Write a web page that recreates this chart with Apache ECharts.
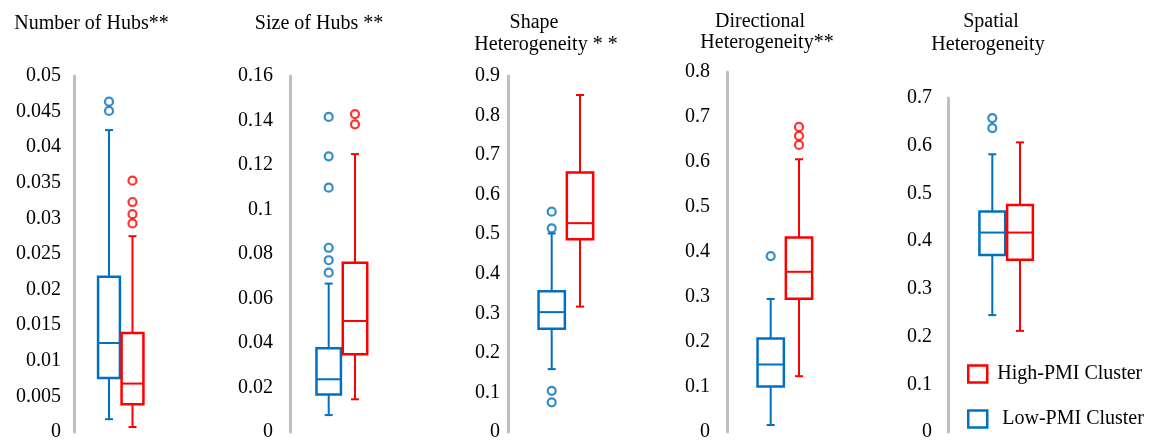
<!DOCTYPE html>
<html>
<head>
<meta charset="utf-8">
<script src="https://cdn.jsdelivr.net/npm/echarts@6/dist/echarts.min.js"></script>
<style>
  html, body { margin: 0; padding: 0; background: #fff; }
  #chart { width: 1151px; height: 443px; }
</style>
</head>
<body>
<div id="chart"></div>
<script>
// box stats are [min, q1, median, q3, max]
const groups = ['Low-PMI Cluster', 'High-PMI Cluster']

const hubCountLow = [0.0018, 0.0076, 0.0125, 0.0218, 0.0424]
const hubCountHigh = [0.0007, 0.0039, 0.0068, 0.0139, 0.0275]
const hubCountLowOut = [0.0451, 0.0464]
const hubCountHighOut = [0.0293, 0.0306, 0.0323, 0.0353]

const hubSizeLow = [0.0076, 0.0169, 0.0237, 0.0376, 0.0667]
const hubSizeHigh = [0.0147, 0.0349, 0.0499, 0.0761, 0.1249]
const hubSizeLowOut = [0.0716, 0.0772, 0.0828, 0.1098, 0.1239, 0.1416]
const hubSizeHighOut = [0.1383, 0.1429]

const shapeLow = [0.159, 0.261, 0.303, 0.356, 0.502]
const shapeHigh = [0.317, 0.487, 0.528, 0.656, 0.852]
const shapeLowOut = [0.075, 0.104, 0.515, 0.557]
const shapeHighOut = []

const directionLow = [0.0156, 0.101, 0.150, 0.208, 0.2956]
const directionHigh = [0.124, 0.296, 0.356, 0.432, 0.606]
const directionLowOut = [0.391]
const directionHighOut = [0.638, 0.658, 0.678]

const spatialLow = [0.245, 0.371, 0.418, 0.462, 0.582]
const spatialHigh = [0.212, 0.361, 0.418, 0.476, 0.607]
const spatialLowOut = [0.637, 0.658]
const spatialHighOut = []

// axis maxima and tick steps
const axisMax = [0.05, 0.16, 0.9, 0.8, 0.7]
const axisStep = [0.005, 0.02, 0.1, 0.1, 0.1]

const titleLines = [
  ['Number of Hubs**'],
  ['Size of Hubs **'],
  ['Shape', 'Heterogeneity * *'],
  ['Directional', 'Heterogeneity**'],
  ['Spatial', 'Heterogeneity']
]

const panelData = [
  [hubCountLow, hubCountHigh, hubCountLowOut, hubCountHighOut],
  [hubSizeLow, hubSizeHigh, hubSizeLowOut, hubSizeHighOut],
  [shapeLow, shapeHigh, shapeLowOut, shapeHighOut],
  [directionLow, directionHigh, directionLowOut, directionHighOut],
  [spatialLow, spatialHigh, spatialLowOut, spatialHighOut]
]

// layout (pixels): axis line x, centers of the two boxes, grid top, label gap
const layout = [
  { axisX: 74, c1: 109, c2: 132.5, top: 76, gap: 13 },
  { axisX: 290, c1: 328.7, c2: 355, top: 76, gap: 17 },
  { axisX: 508, c1: 551.7, c2: 580, top: 76, gap: 8 },
  { axisX: 727, c1: 770.7, c2: 799, top: 72, gap: 17 },
  { axisX: 948, c1: 992.3, c2: 1020, top: 98, gap: 16 }
]
const titlePos = [
  [[91.5, 24]],
  [[319, 24]],
  [[534, 23], [546, 45]],
  [[760, 22], [767, 43]],
  [[991, 22], [988, 45]]
]

const colors = { 'Low-PMI Cluster': '#0070C0', 'High-PMI Cluster': '#FF0000' }
const FONT = "'Liberation Serif', 'Times New Roman', serif"

function renderBox(params, api) {
  const x = api.value(0)
  const pMin = api.coord([x, api.value(1)])
  const pQ1 = api.coord([x, api.value(2)])
  const pMed = api.coord([x, api.value(3)])
  const pQ3 = api.coord([x, api.value(4)])
  const pMax = api.coord([x, api.value(5)])
  const bw = api.size([1, 0])[0] * 0.93
  const cx = pMin[0]
  const cap = 4
  const color = api.visual('color')
  const line = (x1, y1, x2, y2, w) => ({
    type: 'line', shape: { x1: x1, y1: y1, x2: x2, y2: y2 },
    style: { stroke: color, lineWidth: w }
  })
  return {
    type: 'group',
    children: [
      line(cx, pMax[1], cx, pQ3[1], 2),
      line(cx, pQ1[1], cx, pMin[1], 2),
      line(cx - cap, pMax[1], cx + cap, pMax[1], 2),
      line(cx - cap, pMin[1], cx + cap, pMin[1], 2),
      {
        type: 'rect',
        shape: { x: cx - bw / 2, y: pQ3[1], width: bw, height: pQ1[1] - pQ3[1] },
        style: { fill: '#fff', stroke: color, lineWidth: 2.5 }
      },
      line(cx - bw / 2, pMed[1], cx + bw / 2, pMed[1], 2)
    ]
  }
}

const grid = []
const xAxis = []
const yAxis = []
const series = []
const graphic = []

layout.forEach((p, i) => {
  const w = 2 * (p.c2 - p.c1)
  const left = p.c1 - (p.c2 - p.c1) / 2
  grid.push({ left: left, top: p.top, width: w, bottom: 11 })
  xAxis.push({ type: 'category', gridIndex: i, data: groups, show: false })
  yAxis.push({
    type: 'value', gridIndex: i, min: 0, max: axisMax[i], interval: axisStep[i],
    offset: left - p.axisX,
    axisLine: { show: true, lineStyle: { color: '#BFBFBF', width: 3 } },
    axisTick: { show: false },
    splitLine: { show: false },
    axisLabel: {
      margin: p.gap, fontSize: 20, fontFamily: FONT, color: '#000',
      formatter: v => String(+v.toFixed(4))
    }
  })
  const d = panelData[i]
  groups.forEach((g, k) => {
    series.push({
      type: 'custom', name: g, xAxisIndex: i, yAxisIndex: i,
      itemStyle: { color: colors[g] },
      renderItem: renderBox,
      encode: { x: 0, y: [1, 2, 3, 4, 5] },
      data: [[k].concat(d[k])]
    })
    series.push({
      type: 'scatter', name: g + ' outliers', xAxisIndex: i, yAxisIndex: i,
      symbol: 'circle', symbolSize: 8,
      itemStyle: { color: '#fff', borderColor: colors[g], borderWidth: 2.2 },
      data: d[k + 2].map(v => [k, v])
    })
  })
  titleLines[i].forEach((t, j) => {
    graphic.push({
      type: 'text', x: titlePos[i][j][0], y: titlePos[i][j][1],
      style: {
        text: t, fontSize: 20, fontFamily: FONT, fill: '#000',
        align: 'center', verticalAlign: 'middle'
      }
    })
  })
})

const chart = echarts.init(document.getElementById('chart'))
chart.setOption({
  animation: false,
  backgroundColor: '#fff',
  grid: grid,
  xAxis: xAxis,
  yAxis: yAxis,
  graphic: graphic,
  legend: {
    orient: 'vertical', left: 967, top: 364, padding: 0,
    icon: 'rect', itemWidth: 19, itemHeight: 17, itemGap: 25,
    selectedMode: false,
    formatter: name => (name === 'Low-PMI Cluster' ? '  ' : ' ') + name,
    textStyle: { fontSize: 20, fontFamily: FONT, color: '#000' },
    data: [
      { name: 'High-PMI Cluster', itemStyle: { color: '#fff', borderColor: '#FF0000', borderWidth: 2.5 } },
      { name: 'Low-PMI Cluster', itemStyle: { color: '#fff', borderColor: '#0070C0', borderWidth: 2.5 } }
    ]
  },
  series: series
})
</script>
</body>
</html>
